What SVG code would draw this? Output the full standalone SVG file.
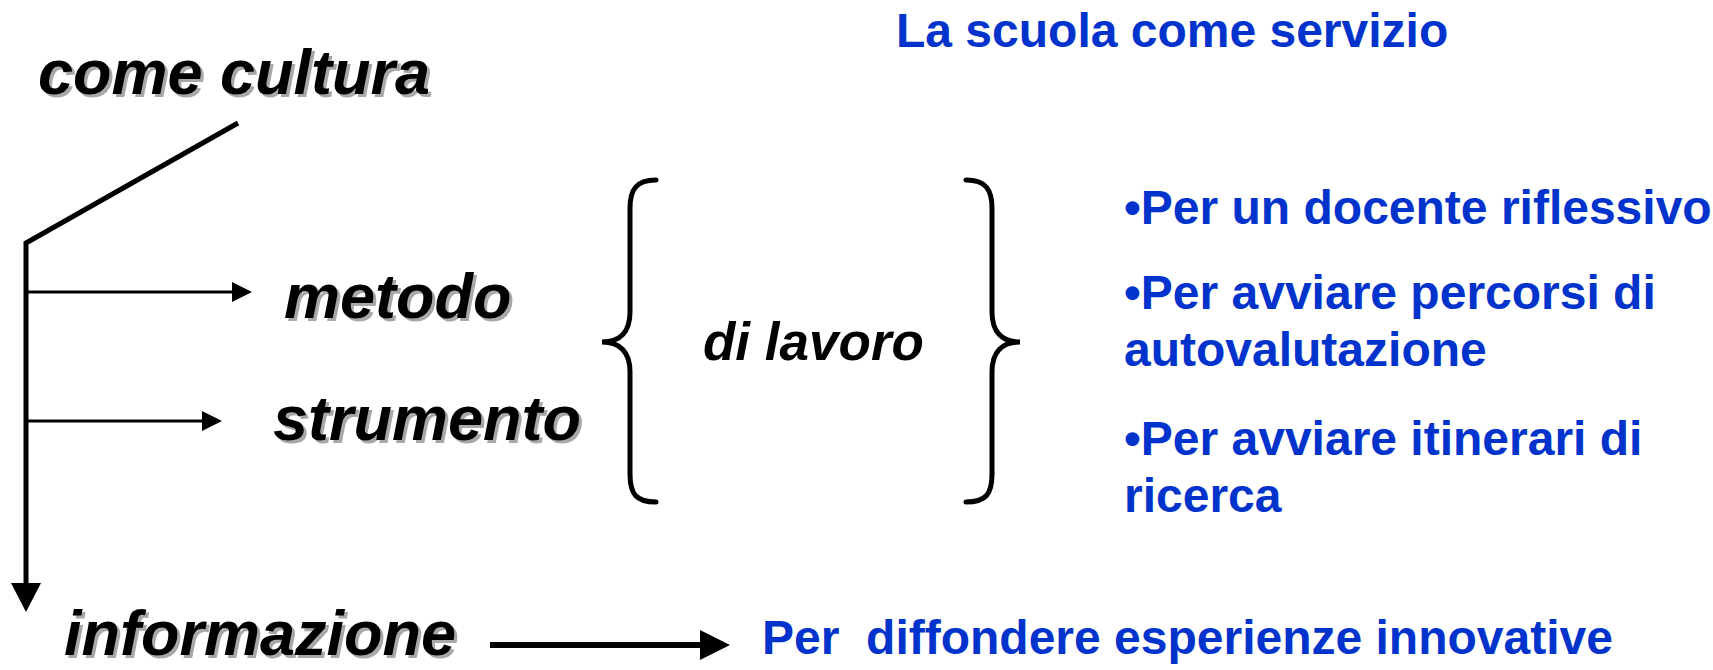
<svg xmlns="http://www.w3.org/2000/svg" width="1713" height="670" viewBox="0 0 1713 670">
<defs>
<style>
.lbl{font-family:"Liberation Sans",Arial,sans-serif;font-weight:bold;font-style:italic;font-size:63px;fill:#000}
.shd{font-family:"Liberation Sans",Arial,sans-serif;font-weight:bold;font-style:italic;font-size:63px;fill:#a8a8a8}
.blue{font-family:"Liberation Sans",Arial,sans-serif;font-weight:bold;font-size:48px;fill:#0033cc}
.thick{stroke:#000;stroke-width:5;fill:none}
.thin{stroke:#000;stroke-width:3;fill:none}
.brace{stroke:#000;stroke-width:5;fill:none;stroke-linecap:round}
.head{fill:#000}
</style>
</defs>
<rect width="1713" height="670" fill="#fff"/>
<g id="title">
<text class="blue" x="896" y="47">La scuola come servizio</text>
</g>
<g id="come-cultura">
<text class="shd" x="41" y="97">come cultura</text>
<text class="lbl" x="38" y="94">come cultura</text>
</g>
<g id="metodo">
<text class="shd" x="287" y="321">metodo</text>
<text class="lbl" x="284" y="318">metodo</text>
</g>
<g id="strumento">
<text class="shd" x="276" y="443">strumento</text>
<text class="lbl" x="273" y="440">strumento</text>
</g>
<g id="informazione">
<text class="shd" x="67" y="658">informazione</text>
<text class="lbl" x="64" y="655">informazione</text>
</g>
<g id="di-lavoro">
<path class="brace" d="M656,180 C636,180 630,190 630,208 L630,312 C630,332 620,342 602,342 C620,342 630,352 630,372 L630,474 C630,494 636,502 656,502"/>
<path class="brace" d="M966,180 C986,180 992,190 992,208 L992,312 C992,332 1002,342 1020,342 C1002,342 992,352 992,372 L992,474 C992,494 986,502 966,502"/>
<text class="lbl" style="font-size:53px" x="703" y="360">di lavoro</text>
</g>
<g id="obiettivi">
<text class="blue" x="1124" y="224">•Per un docente riflessivo</text>
<text class="blue" x="1124" y="309">•Per avviare percorsi di</text>
<text class="blue" x="1124" y="366">autovalutazione</text>
<text class="blue" x="1124" y="455">•Per avviare itinerari di</text>
<text class="blue" x="1124" y="512">ricerca</text>
</g>
<g id="diffondere">
<text class="blue" x="762" y="654" xml:space="preserve">Per  diffondere esperienze innovative</text>
</g>
<g id="connectors">
<path class="thick" d="M238,123 L26,243 L26,585"/>
<polygon class="head" points="11,583 41,583 26,612"/>
<line class="thin" x1="26" y1="292" x2="234" y2="292"/>
<polygon class="head" points="232,282 252,292 232,302"/>
<line class="thin" x1="26" y1="421" x2="204" y2="421"/>
<polygon class="head" points="202,411 222,421 202,431"/>
<line x1="490" y1="645" x2="702" y2="645" stroke="#000" stroke-width="6"/>
<polygon class="head" points="700,630 730,645 700,660"/>
</g>
</svg>
